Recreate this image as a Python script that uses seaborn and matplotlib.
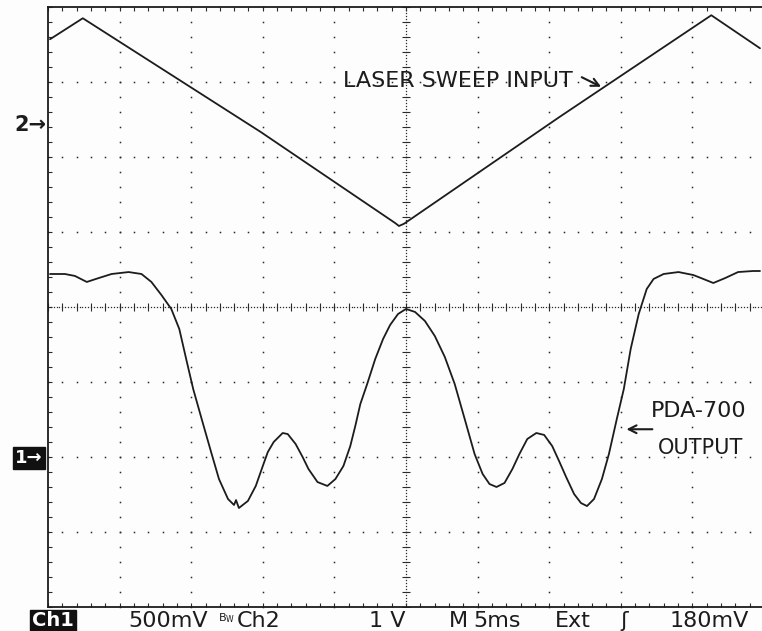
import numpy as np
import pandas as pd
import matplotlib
matplotlib.use("Agg")
import matplotlib.pyplot as plt
import seaborn as sns

# Ch1: PDA-700 output (500 mV/div), time in ms (5 ms/div)
time_ch1_ms = [0.14, 1.18, 1.88, 2.71, 3.54, 4.44, 5.63, 6.53, 7.22, 7.92, 8.61, 9.17,
               9.65, 10.14, 10.83, 11.39, 11.94, 12.57, 12.99, 13.13, 13.33, 13.96, 14.51,
               15.00, 15.35, 15.76, 16.39, 16.74, 17.29, 17.78, 18.19, 18.82, 19.51, 20.07,
               20.63, 21.11, 21.46, 21.81, 22.29, 22.85, 23.40, 23.89, 24.44, 25.00, 25.63,
               26.32, 27.01, 27.71, 28.40, 29.10, 29.79, 30.35, 30.83, 31.32, 31.88, 32.43,
               32.92, 33.47, 34.10, 34.65, 35.21, 35.69, 36.18, 36.74, 37.22, 37.64, 38.13,
               38.68, 39.17, 39.72, 40.21, 40.69, 41.25, 41.81, 42.29, 42.99, 44.03, 45.07,
               45.76, 46.46, 47.29, 48.19, 49.24, 49.72]
ch1_volts = [1.22, 1.22, 1.207, 1.167, 1.193, 1.22, 1.233, 1.22, 1.167, 1.08, 0.987, 0.853,
             0.653, 0.453, 0.22, 0.033, -0.147, -0.28, -0.32, -0.287, -0.34, -0.293, -0.193,
             -0.06, 0.033, 0.10, 0.16, 0.153, 0.087, 0.0, -0.08, -0.167, -0.193, -0.147,
             -0.06, 0.073, 0.207, 0.353, 0.487, 0.653, 0.787, 0.88, 0.953, 0.987, 0.967,
             0.907, 0.807, 0.667, 0.487, 0.253, 0.02, -0.113, -0.18, -0.2, -0.173, -0.08,
             0.02, 0.12, 0.16, 0.147, 0.073, -0.027, -0.133, -0.247, -0.307, -0.327, -0.28,
             -0.147, 0.02, 0.253, 0.453, 0.72, 0.953, 1.12, 1.187, 1.22, 1.233, 1.213,
             1.187, 1.16, 1.193, 1.233, 1.24, 1.24]

# Ch2: laser sweep input (1 V/div)
time_ch2_ms = [0.14, 2.43, 14.86, 24.24, 24.51, 24.86, 35.69, 46.32, 49.72]
ch2_volts = [1.13, 1.41, -0.107, -1.32, -1.36, -1.33, 0.09, 1.45, 1.01]

ch1_volts_per_div = 0.5
ch2_volts_per_div = 1.0
ch1_ground_div = -2.0
ch2_ground_div = 2.44
ms_per_div = 5.0
n_xdiv, n_ydiv = 10, 8

status_labels = ["500mV", "Ch2", "1 V", "M", "5ms", "Ext", "\u0283", "180mV"]
status_xpix = [168, 259, 387, 458, 497, 573, 624, 709]

# ---------------- figure ----------------
sns.set_style("white")
plt.rcParams["font.family"] = ["DejaVu Sans"]

W, H = 762, 631
fig = plt.figure(figsize=(W / 100, H / 100), dpi=100)
fig.patch.set_facecolor("#fdfdfd")
left_px, right_px, top_px, bot_px = 48, 764, 7, 607
ax = fig.add_axes([left_px / W, (H - bot_px) / H, (right_px - left_px) / W, (bot_px - top_px) / H])
ax.set_facecolor("#fdfdfd")

xmax = n_xdiv * ms_per_div
ax.set_xlim(0, xmax)
ax.set_ylim(-n_ydiv / 2, n_ydiv / 2)

ink = "#1c1c1c"
dot = "#2a2a2a"

# graticule: major dotted lines
minor_x = np.arange(0, xmax + 1e-9, ms_per_div / 5)
minor_y = np.arange(-4, 4 + 1e-9, 0.2)
for k in range(1, n_xdiv + 1):
    xv = k * ms_per_div
    if k == n_xdiv // 2:
        continue
    ax.plot(np.full_like(minor_y, xv), minor_y, ls="none", marker="s", ms=1.1, color=dot, mew=0,
            clip_on=False)
for j in range(-3, 4):
    if j == 0:
        continue
    ax.plot(minor_x, np.full_like(minor_x, j), ls="none", marker="s", ms=1.1, color=dot, mew=0)

# centre cross with fine dots and tick marks
cx = xmax / 2
fine_y = np.arange(-4, 4 + 1e-9, 0.04)
fine_x = np.arange(0, xmax + 1e-9, ms_per_div / 25)
ax.plot(np.full_like(fine_y, cx), fine_y, ls="none", marker="s", ms=0.9, color=dot, mew=0)
ax.plot(fine_x, np.zeros_like(fine_x), ls="none", marker="s", ms=0.9, color=dot, mew=0)
ax.plot(minor_x, np.zeros_like(minor_x), ls="none", marker="|", ms=6, mew=0.8, color=dot)
ax.plot(np.full_like(minor_y, cx), minor_y, ls="none", marker="_", ms=6, mew=0.8, color=dot)

# traces
df1 = pd.DataFrame({"t": time_ch1_ms,
                    "div": np.array(ch1_volts) / ch1_volts_per_div + ch1_ground_div})
df2 = pd.DataFrame({"t": time_ch2_ms,
                    "div": np.array(ch2_volts) / ch2_volts_per_div + ch2_ground_div})
sns.lineplot(data=df1, x="t", y="div", sort=False, estimator=None, color=ink, lw=1.3, ax=ax)
sns.lineplot(data=df2, x="t", y="div", sort=False, estimator=None, color=ink, lw=1.3, ax=ax)

# frame and border ticks
for s in ["left", "top", "bottom"]:
    ax.spines[s].set_color(ink)
    ax.spines[s].set_linewidth(1.3)
ax.spines["right"].set_visible(False)
ax.set_xticks(minor_x)
ax.set_yticks(minor_y)
ax.tick_params(direction="in", length=3, width=0.8, color=dot,
               top=True, right=False, bottom=True, left=True,
               labelbottom=False, labelleft=False)
ax.set_xlabel("")
ax.set_ylabel("")

# handwritten notes
ax.text(20.6, 3.01, "LASER SWEEP INPUT", fontsize=16, color=ink, va="center", ha="left")
ax.annotate("", xy=(38.8, 2.92), xytext=(37.1, 3.08),
            arrowprops=dict(arrowstyle="->", color=ink, lw=1.5, mutation_scale=14))
ax.text(42.1, -1.39, "PDA-700", fontsize=16, color=ink, va="center", ha="left")
ax.text(42.6, -1.88, "OUTPUT", fontsize=15, color=ink, va="center", ha="left")
ax.annotate("", xy=(40.2, -1.63), xytext=(42.4, -1.63),
            arrowprops=dict(arrowstyle="->", color=ink, lw=1.5, mutation_scale=14))

# channel ground markers
fig.text(14 / W, 1 - 125 / H, "2\u2192", fontsize=15, color=ink, va="center", ha="left",
         fontweight="bold")
fig.text(15 / W, 1 - 458 / H, "1\u2192", fontsize=13, color="white", va="center", ha="left",
         fontweight="bold",
         bbox=dict(boxstyle="square,pad=0.12", facecolor="#111111", edgecolor="#111111"))

# status bar
ybar = 1 - 621 / H
fig.text(53 / W, ybar, "Ch1", fontsize=14, color="white", va="center", ha="center",
         fontweight="bold", family=["Liberation Sans Narrow", "DejaVu Sans"],
         bbox=dict(boxstyle="square,pad=0.1", facecolor="#111111", edgecolor="#111111"))
for lab, xp in zip(status_labels, status_xpix):
    fig.text(xp / W, ybar, lab, fontsize=16, color=ink, va="center", ha="center")
fig.text(227 / W, 1 - 618 / H, r"$\mathregular{B_W}$", fontsize=8, color=ink,
         va="center", ha="center")

fig.savefig("out.png", dpi=100, facecolor=fig.get_facecolor())
